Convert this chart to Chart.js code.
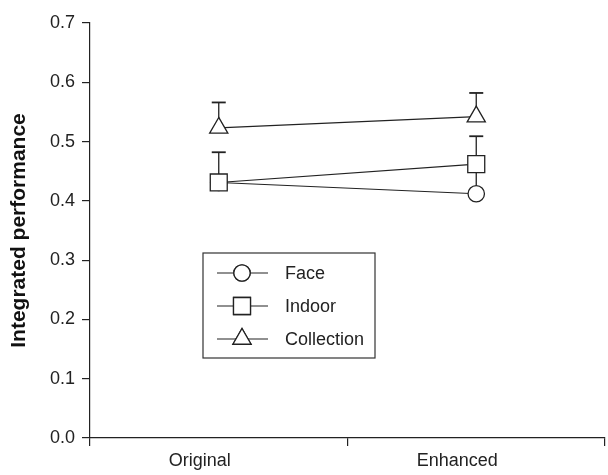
<!DOCTYPE html>
<html>
<head>
<meta charset="utf-8">
<script src="https://cdn.jsdelivr.net/npm/chart.js@4/dist/chart.umd.min.js"></script>
<style>
  html, body { margin: 0; padding: 0; background: #fff; }
  #wrap { width: 608px; height: 475px; }
</style>
</head>
<body>
<div id="wrap"><canvas id="mainChart" width="608" height="475"></canvas></div>
<script>
// ===== DATA =====
const categories = ["Original", "Enhanced"];
const seriesNames = ["Face", "Indoor", "Collection"];
const faceValues = [0.431, 0.412];
const faceUpper = [0.440, 0.455];
const indoorValues = [0.431, 0.462];
const indoorUpper = [0.482, 0.509];
const collectionValues = [0.523, 0.542];
const collectionUpper = [0.566, 0.582];
const yTicks = [0, 0.1, 0.2, 0.3, 0.4, 0.5, 0.6, 0.7];

const INK = "#222";
const FONT = "'Liberation Sans', Arial, sans-serif";

// higher order = drawn first (underneath)
function series(label, data, upper, style, radius, order) {
  return {
    label, data, upper, order,
    borderColor: INK,
    borderWidth: 1.2,
    backgroundColor: "#fff",
    pointStyle: style,
    pointRadius: radius,
    pointHoverRadius: radius,
    pointBorderWidth: 1.3,
    pointBorderColor: INK,
    pointBackgroundColor: "#fff",
    tension: 0
  };
}

// ==========================
// Upper error bars (drawn under the markers)
// ==========================
const errorBars = {
  id: "errorBars",
  beforeDatasetsDraw(chart) {
    const { ctx, scales: { x, y } } = chart;
    ctx.save();
    ctx.strokeStyle = INK;
    chart.data.datasets.forEach((ds) => {
      ds.data.forEach((v, i) => {
        const px = x.getPixelForValue(i);
        const top = y.getPixelForValue(ds.upper[i]);
        ctx.lineWidth = 1.3;
        ctx.beginPath();
        ctx.moveTo(px, y.getPixelForValue(v));
        ctx.lineTo(px, top);
        ctx.stroke();
        ctx.lineWidth = 1.8;
        ctx.beginPath();
        ctx.moveTo(px - 7, top);
        ctx.lineTo(px + 7, top);
        ctx.stroke();
      });
    });
    ctx.restore();
  }
};

// ==========================
// Boxed legend inside the plot
// ==========================
const boxLegend = {
  id: "boxLegend",
  afterDraw(chart) {
    const { ctx, chartArea } = chart;
    const left = chartArea.left + 113;
    const top = chartArea.top + 230;
    const w = 172, h = 105, rowH = 33;
    ctx.save();
    ctx.strokeStyle = "#333";
    ctx.lineWidth = 1.2;
    ctx.strokeRect(left, top, w, h);
    ctx.font = "18px " + FONT;
    ctx.textBaseline = "middle";
    chart.data.datasets.forEach((ds, i) => {
      const cy = top + 20 + i * rowH;
      ctx.strokeStyle = INK;
      ctx.lineWidth = 1.2;
      ctx.beginPath();
      ctx.moveTo(left + 14, cy);
      ctx.lineTo(left + 65, cy);
      ctx.stroke();
      ctx.fillStyle = "#fff";
      ctx.lineWidth = 1.3;
      Chart.helpers.drawPoint(ctx, {
        pointStyle: ds.pointStyle, radius: ds.pointRadius, rotation: 0, borderWidth: 1.3
      }, left + 39, cy);
      ctx.fill();
      ctx.stroke();
      ctx.fillStyle = "#222";
      ctx.fillText(ds.label, left + 82, cy + 1);
    });
    ctx.restore();
  }
};

new Chart(document.getElementById("mainChart"), {
  type: "line",
  data: {
    labels: categories,
    datasets: [
      series(seriesNames[0], faceValues, faceUpper, "circle", 8.2, 3),
      series(seriesNames[1], indoorValues, indoorUpper, "rect", 12, 2),
      series(seriesNames[2], collectionValues, collectionUpper, "triangle", 10.5, 1)
    ]
  },
  options: {
    responsive: false,
    animation: false,
    events: [],
    layout: { autoPadding: false, padding: { top: 23, right: 3, left: 0, bottom: 0 } },
    plugins: { legend: { display: false }, tooltip: { enabled: false } },
    scales: {
      x: {
        offset: true,
        border: { color: INK, width: 1.2 },
        grid: { offset: true, drawOnChartArea: false, drawTicks: true, tickLength: 8, color: INK, lineWidth: 1.2 },
        ticks: { color: "#222", font: { family: FONT, size: 18 }, labelOffset: -19, padding: 4, maxRotation: 0 },
        afterFit: (s) => { s.height = 37; }
      },
      y: {
        min: 0, max: 0.7,
        border: { color: INK, width: 1.2 },
        grid: { drawOnChartArea: false, tickLength: 8, color: INK, lineWidth: 1.2 },
        afterBuildTicks: (s) => { s.ticks = yTicks.map(v => ({ value: v })); },
        ticks: {
          color: "#222", padding: 7,
          font: { family: FONT, size: 18 },
          callback: (v) => v.toFixed(1)
        },
        title: {
          display: true, text: "Integrated performance", color: "#111",
          font: { family: FONT, size: 21, weight: "bold" },
          padding: { top: 7, bottom: 0 }
        },
        afterFit: (s) => { s.width = 90; }
      }
    }
  },
  plugins: [errorBars, boxLegend]
});
</script>
</body>
</html>
